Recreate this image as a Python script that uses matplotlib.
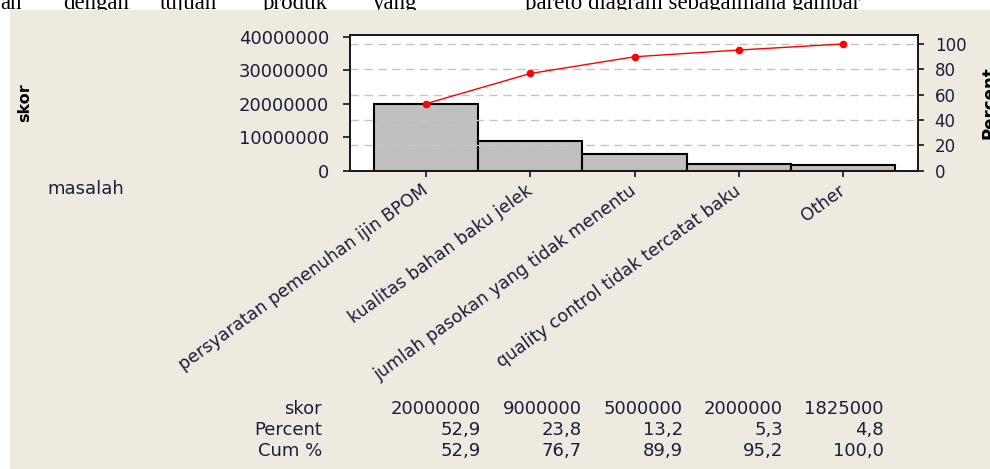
import matplotlib
matplotlib.use("Agg")
import matplotlib.pyplot as plt
from matplotlib.patches import Rectangle

# data
kategori = ["persyaratan pemenuhan ijin BPOM",
            "kualitas bahan baku jelek",
            "jumlah pasokan yang tidak menentu",
            "quality control tidak tercatat baku",
            "Other"]
skor = [20000000, 9000000, 5000000, 2000000, 1825000]
percent = [52.9, 23.8, 13.2, 5.3, 4.8]
cum_pct = [52.9, 76.7, 89.9, 95.2, 100.0]

W, H = 990, 469
TXT = "#1c1c3c"
plt.rcParams["font.family"] = ["DejaVu Sans"]

fig = plt.figure(figsize=(W / 100, H / 100), dpi=100)
fig.patch.set_facecolor("white")

def px(x, y):
    return x / W, 1 - y / H

# potongan teks dokumen di atas gambar
kata = [("an", 0), ("dengan", 63), ("tujuan", 160), ("produk", 263), ("yang", 373),
        ("pareto diagram sebagaimana gambar", 525)]
for w, x in kata:
    fig.text(*px(x, 9), w, family="Liberation Serif", fontsize=16.5, color="black",
             ha="left", va="baseline", zorder=-1)

# panel minitab
fig.add_artist(Rectangle((10 / W, 0), 1, 1 - 10 / H, transform=fig.transFigure,
                         facecolor="#EEEAE0", edgecolor="none", zorder=0))

# axes
x0, x1, y0, y1 = 350, 918, 35, 170.7
ax = fig.add_axes([x0 / W, 1 - y1 / H, (x1 - x0) / W, (y1 - y0) / H], zorder=2)
ax.set_facecolor("white")
total = sum(skor)
ytop = 40.5e6
xs = list(range(len(skor)))

ax.bar(xs, skor, width=1.0, color="#C0C0C0", edgecolor="#000000", linewidth=1.5, zorder=3)
ax.set_xlim(-0.73, len(skor) - 1 + 0.72)
ax.set_ylim(0, ytop)
ax.set_yticks([0, 10000000, 20000000, 30000000, 40000000])
ax.set_yticklabels(["0", "10000000", "20000000", "30000000", "40000000"])
ax.set_xticks(xs)
ax.set_xticklabels(kategori, rotation=36, ha="right", va="center", rotation_mode="anchor")
ax.tick_params(axis="y", direction="out", length=5, width=1.1, pad=10,
               labelsize=13, labelcolor=TXT)
ax.tick_params(axis="x", direction="out", length=4, width=1.1, pad=9,
               labelsize=12.5, labelcolor=TXT)
for s in ax.spines.values():
    s.set_linewidth(1.3)
    s.set_color("#1a1a1a")

ax2 = ax.twinx()
ax2.set_ylim(0, ytop / total * 100)
ax2.set_yticks([0, 20, 40, 60, 80, 100])
ax2.tick_params(axis="y", direction="out", length=4, width=1.1, pad=8,
                labelsize=12, labelcolor=TXT)
for s in ax2.spines.values():
    s.set_linewidth(1.3)
    s.set_color("#1a1a1a")
for g in [20, 40, 60, 80, 100]:
    ax2.axhline(g, color="#C4C4C4", linewidth=1.0, linestyle=(0, (6, 4)), zorder=1)
ax2.plot(xs, cum_pct, color="#FF0000", linewidth=1.0, marker="o", markersize=5.5,
         markeredgewidth=0, zorder=4)

# label sumbu
fig.text(*px(25, 103), "skor", rotation=90, fontsize=11.5, fontweight="bold",
         color="black", ha="center", va="center")
fig.text(*px(980, 103), "Percent", rotation=90, fontsize=12, fontweight="bold",
         color="black", ha="left", va="center")
fig.text(*px(47, 189), "masalah", fontsize=13, color=TXT, ha="left", va="center")

# tabel
kol = [481, 582, 683, 783, 884]
baris = [("skor", [str(v) for v in skor], 409),
         ("Percent", [f"{v:.1f}".replace(".", ",") for v in percent], 430),
         ("Cum %", [f"{v:.1f}".replace(".", ",") for v in cum_pct], 451)]
for nama, vals, y in baris:
    fig.text(*px(322, y), nama, fontsize=13, color=TXT, ha="right", va="center")
    for x, v in zip(kol, vals):
        fig.text(*px(x, y), v, fontsize=13, color=TXT, ha="right", va="center")

fig.savefig("out.png", dpi=100, facecolor=fig.get_facecolor())
